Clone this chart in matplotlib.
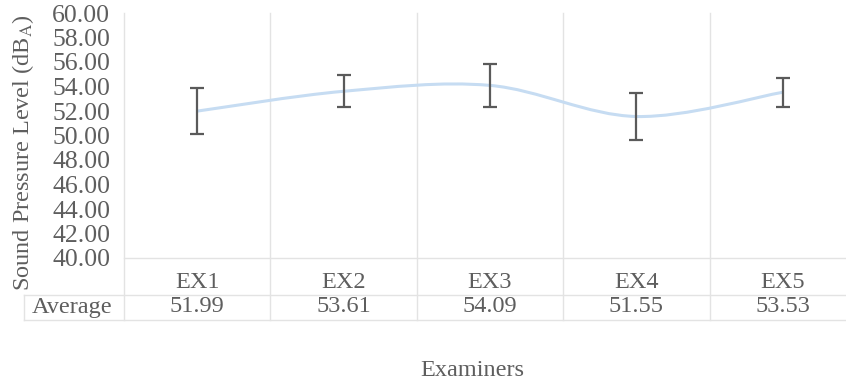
import matplotlib
matplotlib.use('Agg')
import matplotlib.pyplot as plt
import matplotlib.transforms as mtransforms
from matplotlib.path import Path
from matplotlib.patches import PathPatch
import numpy as np

plt.rcParams['font.family'] = 'Liberation Serif'
plt.rcParams['mathtext.fontset'] = 'stix'

examiners = ['EX1', 'EX2', 'EX3', 'EX4', 'EX5']
average = [51.99, 53.61, 54.09, 51.55, 53.53]
sd = [1.85, 1.30, 1.75, 1.95, 1.20]
yticks = np.arange(40, 61, 2)

text_col = '#5e5e5e'
grid_col = '#e3e3e3'

fig = plt.figure(figsize=(8.46, 3.85), dpi=100)
W, H = 846, 385
# plot area in pixels: x 124..856 (last column runs off the edge), y 13..258
ax = fig.add_axes([124 / W, (H - 258) / H, 732 / W, 245 / H])

x = np.arange(len(examiners))

# smoothed line: cubic Bezier segments with Catmull-Rom control points
pts = np.column_stack([x, average]).astype(float)
ext = np.vstack([pts[0], pts, pts[-1]])
verts = [tuple(pts[0])]
codes = [Path.MOVETO]
for i in range(len(pts) - 1):
    p0, p1, p2, p3 = ext[i], ext[i + 1], ext[i + 2], ext[i + 3]
    c1 = p1 + (p2 - p0) / 6
    c2 = p2 - (p3 - p1) / 6
    verts += [tuple(c1), tuple(c2), tuple(p2)]
    codes += [Path.CURVE4] * 3
ax.add_patch(PathPatch(Path(verts, codes), facecolor='none', edgecolor='#c6dcf2',
                       lw=2.2, zorder=2))

ax.errorbar(x, average, yerr=sd, fmt='none', ecolor='#5a5a5a', elinewidth=1.6,
            capsize=5, capthick=1.6, zorder=3)

ax.set_xlim(-0.5, len(examiners) - 0.5)
ax.set_ylim(40, 60)
ax.set_yticks(yticks)
ax.set_yticklabels(['%.2f' % v for v in yticks], fontsize=18.5, color=text_col)
ax.tick_params(axis='y', length=0, pad=10)
ax.set_xticks([])
for s in ax.spines.values():
    s.set_visible(False)

ax.set_ylabel('Sound Pressure Level (dB$_\\mathrm{A}$)', fontsize=17.5, color=text_col,
              va='center')
ax.yaxis.set_label_coords(-0.138, 0.43)

# data table under the plot
trans = mtransforms.blended_transform_factory(ax.transData, ax.transAxes)
row1, row2, bottom = -0.10, -0.20, -0.255
for xi, name, val in zip(x, examiners, average):
    ax.text(xi, row1, name, transform=trans, ha='center', va='center',
            fontsize=17.5, color=text_col)
    ax.text(xi, row2, '%.2f' % val, transform=trans, ha='center', va='center',
            fontsize=17.5, color=text_col)
ax.text(-0.5 - 0.08, row2, 'Average', transform=trans, ha='right', va='center',
        fontsize=17.5, color=text_col)

for b in np.arange(-0.5, len(examiners), 1.0):
    ax.plot([b, b], [1, bottom], transform=trans, color=grid_col, lw=1,
            clip_on=False, zorder=1)
ax.plot([-0.5, 4.5], [0, 0], transform=trans, color=grid_col, lw=1, clip_on=False)
ax.plot([-1.18, 4.5], [-0.152, -0.152], transform=trans, color=grid_col, lw=1,
        clip_on=False)
ax.plot([-1.18, 4.5], [bottom, bottom], transform=trans, color=grid_col, lw=1,
        clip_on=False)
ax.plot([-1.18, -1.18], [-0.152, bottom], transform=trans, color=grid_col, lw=1,
        clip_on=False)

fig.text(472 / W, 1 - 370 / H, 'Examiners', ha='center', va='center',
         fontsize=17.5, color=text_col)

fig.savefig('out.png', dpi=100)
